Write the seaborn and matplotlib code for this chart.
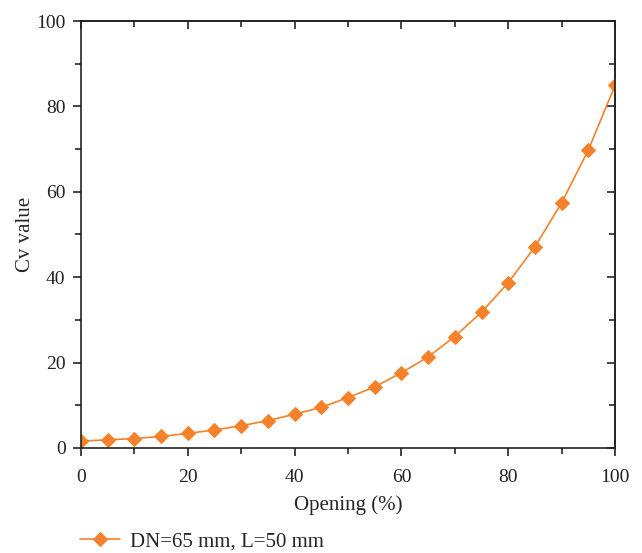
import matplotlib
matplotlib.use("Agg")
import matplotlib.pyplot as plt
import seaborn as sns
import pandas as pd
from matplotlib.ticker import MultipleLocator

opening = [0, 5, 10, 15, 20, 25, 30, 35, 40, 45, 50, 55, 60, 65, 70, 75, 80, 85, 90, 95, 100]
cv_value = [1.6, 1.9, 2.2, 2.7, 3.4, 4.2, 5.2, 6.4, 7.9, 9.5, 11.8, 14.3, 17.6, 21.3,
            26.1, 31.8, 38.7, 47.1, 57.4, 69.8, 84.9]
series_label = "DN=65 mm, L=50 mm"
x_label = "Opening (%)"
y_label = "Cv value"

df = pd.DataFrame({"Opening": opening, "Cv": cv_value, "series": series_label})

sns.set_style("ticks")
plt.rcParams["font.family"] = ["Liberation Serif", "DejaVu Serif"]
plt.rcParams["axes.linewidth"] = 1.2

fig = plt.figure(figsize=(6.42, 5.53), dpi=100)
ax = fig.add_axes([0.126, 0.190, 0.832, 0.772])

color = "#F5822A"
sns.lineplot(data=df, x="Opening", y="Cv", hue="series", palette=[color],
             marker="D", markersize=7, markeredgecolor=color, linewidth=1.2,
             ax=ax, legend=True)

ax.set_xlim(0, 100)
ax.set_ylim(0, 100)
ax.xaxis.set_major_locator(MultipleLocator(20))
ax.xaxis.set_minor_locator(MultipleLocator(10))
ax.yaxis.set_major_locator(MultipleLocator(20))
ax.yaxis.set_minor_locator(MultipleLocator(10))
ax.tick_params(which="major", direction="out", length=6, width=1.2, labelsize=14, colors="#222222")
ax.tick_params(axis="x", which="major", pad=9)
ax.tick_params(axis="y", which="major", pad=5)
ax.tick_params(which="minor", direction="out", length=4, width=1.2)
for s in ax.spines.values():
    s.set_visible(True)
    s.set_color("#222222")

secx = ax.secondary_xaxis("top")
secx.xaxis.set_major_locator(MultipleLocator(20))
secx.xaxis.set_minor_locator(MultipleLocator(10))
secx.tick_params(which="major", direction="in", length=6, width=1.2, labeltop=False)
secx.tick_params(which="minor", direction="in", length=4, width=1.2)
secx.spines["top"].set_linewidth(1.2)

secy = ax.secondary_yaxis("right")
secy.yaxis.set_major_locator(MultipleLocator(20))
secy.yaxis.set_minor_locator(MultipleLocator(10))
secy.tick_params(which="major", direction="in", length=6, width=1.2, labelright=False)
secy.tick_params(which="minor", direction="in", length=4, width=1.2)
secy.spines["right"].set_linewidth(1.2)

ax.set_xlabel(x_label, fontsize=15, labelpad=7)
ax.set_ylabel(y_label, fontsize=15, labelpad=1)

handles, labels = ax.get_legend_handles_labels()
ax.legend_.remove()
fig.legend(handles, labels, loc="center left", bbox_to_anchor=(0.095, 0.021),
           frameon=False, fontsize=15, handlelength=1.92, handletextpad=0.48)

fig.savefig("out.png", dpi=100)
